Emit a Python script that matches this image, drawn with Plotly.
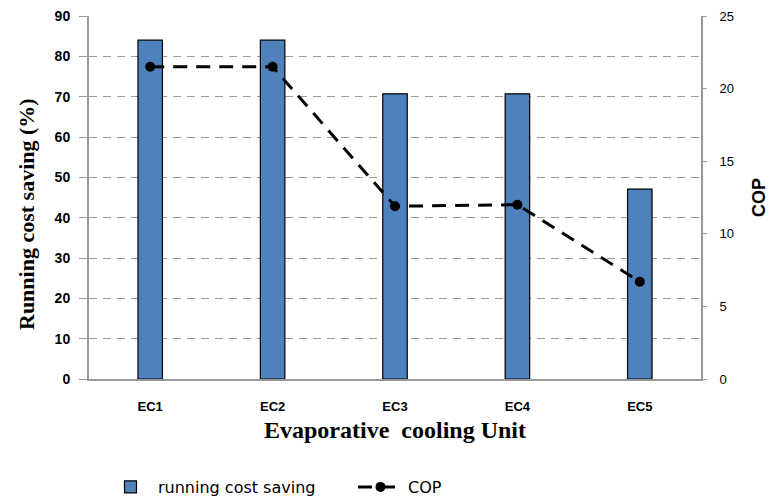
import plotly.graph_objects as go

categories = ["EC1", "EC2", "EC3", "EC4", "EC5"]
running_cost_saving = [84, 84, 70.7, 70.7, 47.1]
cop = [21.5, 21.5, 11.9, 12.0, 6.7]

fig = go.Figure()
fig.add_trace(go.Bar(
    x=categories, y=running_cost_saving, name="running cost saving",
    marker=dict(color="#4F81BD", line=dict(color="#000000", width=1.2)),
    width=0.2, yaxis="y"))
fig.add_trace(go.Scatter(
    x=categories, y=cop, name="COP", mode="lines+markers",
    line=dict(color="#000000", width=3, dash="14px,9px"),
    marker=dict(color="#000000", size=10), yaxis="y2"))

# page has an 8px body margin; figure sized to fill the rest of the window
W, H = 766, 491
OFF = 8
fig.update_layout(
    width=W, height=H,
    margin=dict(l=81, r=73, t=8, b=120, autoexpand=False),
    plot_bgcolor="white", paper_bgcolor="white",
    showlegend=True,
    legend=dict(orientation="h", xref="container", yref="container",
                x=95 / W, y=1 - (487 - OFF) / H, xanchor="left", yanchor="middle",
                font=dict(family="DejaVu Sans", size=16, color="#000"),
                entrywidth=190, entrywidthmode="pixels", traceorder="normal",
                itemwidth=45),
    xaxis=dict(showline=True, linecolor="#999999", linewidth=2, ticks="",
               automargin=False, ticklabelstandoff=14,
               tickfont=dict(family="Liberation Sans", size=13, color="#000"),
               tickprefix="<b>", ticksuffix="</b>",
               title=dict(text="<b>Evaporative  cooling Unit</b>",
                          font=dict(family="Liberation Serif", size=24, color="#000"),
                          standoff=9)),
    yaxis=dict(range=[0, 90], dtick=10, showline=True, linecolor="#999999", linewidth=2,
               ticks="outside", ticklen=8, tickcolor="#999999", automargin=False,
               ticklabelstandoff=6, ticklabeloverflow="allow",
               showgrid=True, gridcolor="#9a9a9a", griddash="8px,6px", gridwidth=1,
               tickfont=dict(family="Liberation Sans", size=14, color="#000"),
               tickprefix="<b>", ticksuffix="</b>",
               zeroline=False),
    yaxis2=dict(range=[0, 25], dtick=5, overlaying="y", side="right",
                showline=True, linecolor="#999999", linewidth=2, automargin=False,
                ticks="outside", ticklen=4, tickcolor="#999999", showgrid=False,
                ticklabelstandoff=10, ticklabeloverflow="allow",
                zeroline=False,
                tickfont=dict(family="Liberation Sans", size=13, color="#000"),
                title=dict(text="<b>COP</b>",
                           font=dict(family="Liberation Sans", size=18, color="#000"),
                           standoff=19)),
    annotations=[dict(text="<b>Running cost saving (%)</b>", textangle=-90,
                      xref="paper", yref="paper", showarrow=False,
                      x=(27 - OFF - 81) / (W - 81 - 73),
                      y=1 - (214 - OFF - 8) / (H - 8 - 120),
                      xanchor="center", yanchor="middle",
                      font=dict(family="Liberation Serif", size=22, color="#000"))],
)

fig.write_html("out.html")
